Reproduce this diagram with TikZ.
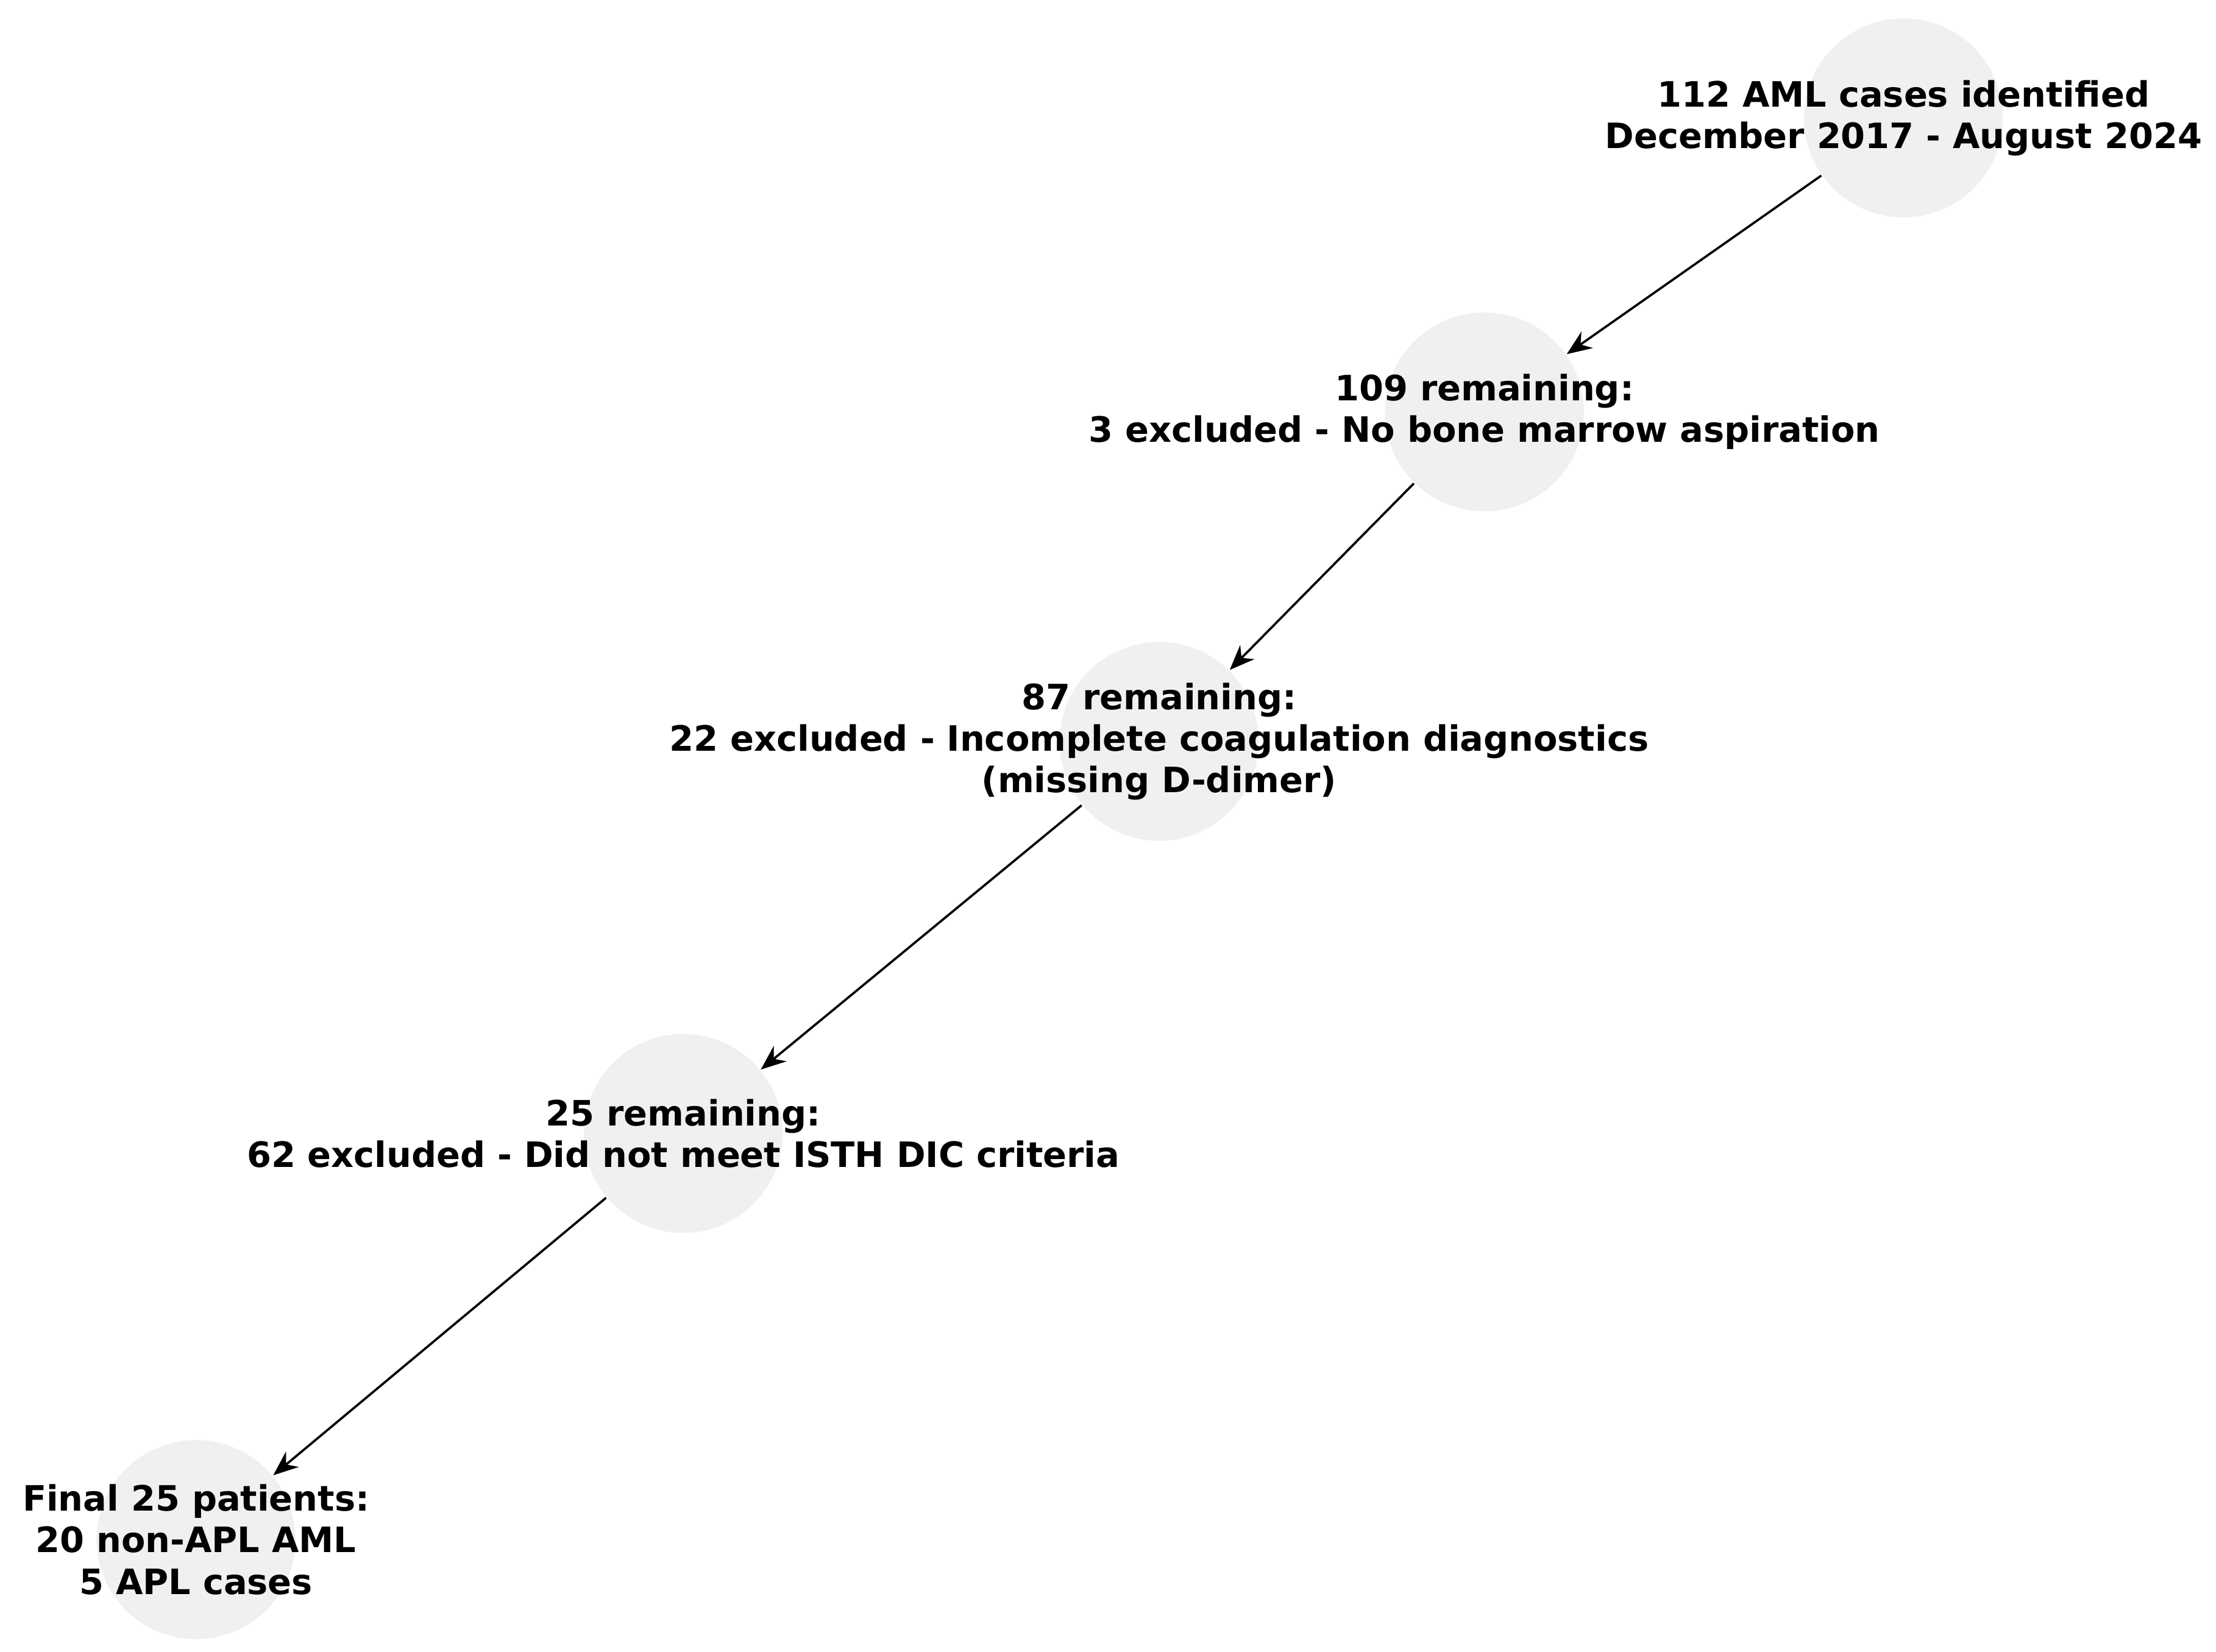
\documentclass[tikz,border=0pt]{standalone}
\usepackage{fontspec}
\setmainfont{DejaVu Sans}
\usetikzlibrary{arrows.meta}
\definecolor{nodegray}{HTML}{F0F0F0}
\begin{document}
\begin{tikzpicture}[x=0.01cm,y=-0.01cm,
  dot/.style={circle,fill=nodegray,minimum size=1.4cm,inner sep=0pt},
  lab/.style={align=center,font=\fontsize{7}{8.3}\selectfont\bfseries},
  arr/.style={-{Stealth[length=5pt,width=4pt]},line width=0.45pt}]
\useasboundingbox (0,0) rectangle (1560,1163);
\node[dot] (n1) at (1340,83) {};
\node[dot] (n2) at (1045,290) {};
\node[dot] (n3) at (816,522) {};
\node[dot] (n4) at (481,798) {};
\node[dot] (n5) at (138,1084) {};
\node[lab] (t1) at (1340,83) {112 AML cases identified\\December 2017 - August 2024};
\node[lab] (t2) at (1045,290) {109 remaining:\\3 excluded - No bone marrow aspiration};
\node[lab] (t3) at (816,522) {87 remaining:\\22 excluded - Incomplete coagulation diagnostics\\(missing D-dimer)};
\node[lab] (t4) at (481,798) {25 remaining:\\62 excluded - Did not meet ISTH DIC criteria};
\node[lab] (t5) at (138,1084) {Final 25 patients:\\20 non-APL AML\\5 APL cases};
\draw[arr] (n1) -- (n2);
\draw[arr] (n2) -- (n3);
\draw[arr] (n3) -- (n4);
\draw[arr] (n4) -- (n5);
\end{tikzpicture}
\end{document}
